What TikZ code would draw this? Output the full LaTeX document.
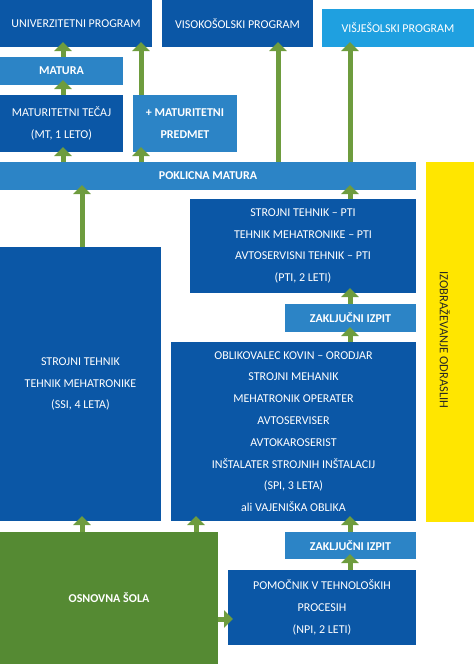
\documentclass[tikz,border=0pt]{standalone}
\usepackage{fontspec}
\setmainfont{Carlito}
\usetikzlibrary{arrows.meta}
\definecolor{dkblue}{HTML}{0B57A6}
\definecolor{mdblue}{HTML}{2C84C6}
\definecolor{ltblue}{HTML}{1FA0E0}
\definecolor{osgreen}{HTML}{558A33}
\definecolor{argreen}{HTML}{6E9C3E}
\definecolor{ylw}{HTML}{FFE600}
\tikzset{
  box/.style={anchor=north west, inner sep=0pt, outer sep=0pt, text=white, align=center,
    font=\fontsize{12}{21.8}\selectfont},
  dk/.style={box, fill=dkblue},
  md/.style={box, fill=mdblue, font=\fontsize{12}{21.8}\selectfont\bfseries},
  arr/.style={draw=argreen, line width=5pt, -{Triangle[width=17pt,length=9pt]}, shorten >=-5pt}
}
\begin{document}
\begin{tikzpicture}[x=1pt,y=-1pt]
\useasboundingbox (0,0) rectangle (474,664);
\node[dk, minimum width=152pt, minimum height=47pt] (univ) at (0,0) {UNIVERZITETNI PROGRAM};
\node[dk, minimum width=151pt, minimum height=47pt] (viso) at (162,0) {VISOKOŠOLSKI PROGRAM};
\node[box, fill=ltblue, minimum width=152pt, minimum height=38pt] (visj) at (322,9) {VIŠJEŠOLSKI PROGRAM};
\node[md, minimum width=123pt, minimum height=28pt] (matura) at (0,57) {MATURA};
\node[dk, minimum width=123pt, minimum height=57pt] (mt) at (0,95) {MATURITETNI TEČAJ\\(MT, 1 LETO)};
\node[md, minimum width=104pt, minimum height=57pt] (predmet) at (133,95) {+ MATURITETNI\\PREDMET};
\node[md, minimum width=416pt, minimum height=28pt] (pokl) at (0,162) {POKLICNA MATURA};
\node[box, fill=ylw, minimum width=48pt, minimum height=360pt] (odr) at (426,162) {};
\node[rotate=-90, text=black!85, font=\fontsize{12.5}{14}\selectfont, inner sep=0pt] (odrt) at ([xshift=-5pt,yshift=2pt]odr.center) {IZOBRAŽEVANJE ODRASLIH};
\node[dk, minimum width=226pt, minimum height=94pt] (pti) at (190,199) {STROJNI TEHNIK – PTI\\TEHNIK MEHATRONIKE – PTI\\AVTOSERVISNI TEHNIK – PTI\\(PTI, 2 LETI)};
\node[md, minimum width=131pt, minimum height=28pt] (zi1) at (285,304) {ZAKLJUČNI IZPIT};
\node[dk, minimum width=245pt, minimum height=179pt] (spi) at (171,342) {OBLIKOVALEC KOVIN – ORODJAR\\STROJNI MEHANIK\\MEHATRONIK OPERATER\\AVTOSERVISER\\AVTOKAROSERIST\\INŠTALATER STROJNIH INŠTALACIJ\\(SPI, 3 LETA)\\ali VAJENIŠKA OBLIKA};
\node[dk, minimum width=161pt, minimum height=274pt] (ssi) at (0,247) {STROJNI TEHNIK\\TEHNIK MEHATRONIKE\\(SSI, 4 LETA)};
\node[box, fill=osgreen, font=\fontsize{12}{21.8}\selectfont\bfseries, minimum width=218pt, minimum height=132pt] (os) at (0,532) {OSNOVNA ŠOLA};
\node[md, minimum width=131pt, minimum height=27pt] (zi2) at (285,532) {ZAKLJUČNI IZPIT};
\node[dk, minimum width=188pt, minimum height=75pt] (npi) at (228,570) {POMOČNIK V TEHNOLOŠKIH\\PROCESIH\\(NPI, 2 LETI)};
% arrows
\draw[arr] ([xshift=63pt]matura.north west) -- ([xshift=63pt]univ.south west);
\draw[arr] ([xshift=63pt]mt.north west) -- ([xshift=63pt]matura.south west);
\draw[arr] ([xshift=63pt]pokl.north west) -- ([xshift=63pt]mt.south west);
\draw[arr] ([xshift=141pt]pokl.north west) -- ([xshift=8pt]predmet.south west);
\draw[arr] ([xshift=8pt]predmet.north west) -- ([xshift=141pt]univ.south west);
\draw[arr] ([xshift=278pt]pokl.north west) -- ([xshift=116pt]viso.south west);
\draw[arr] ([xshift=350pt]pokl.north west) -- ([xshift=28pt]visj.south west);
\draw[arr] ([xshift=82pt]ssi.north west) -- ([xshift=82pt]pokl.south west);
\draw[arr] ([xshift=160pt]pti.north west) -- ([xshift=350pt]pokl.south west);
\draw[arr] ([xshift=65pt]zi1.north west) -- ([xshift=160pt]pti.south west);
\draw[arr] ([xshift=179pt]spi.north west) -- ([xshift=65pt]zi1.south west);
\draw[arr] ([xshift=82pt]os.north west) -- ([xshift=82pt]ssi.south west);
\draw[arr] ([xshift=196pt]os.north west) -- ([xshift=25pt]spi.south west);
\draw[arr] ([xshift=65pt]zi2.north west) -- ([xshift=179pt]spi.south west);
\draw[arr] ([xshift=122pt]npi.north west) -- ([xshift=65pt]zi2.south west);
\draw[arr] ([yshift=-21pt]os.east) -- ([yshift=-11.5pt]npi.west);
\end{tikzpicture}
\end{document}
